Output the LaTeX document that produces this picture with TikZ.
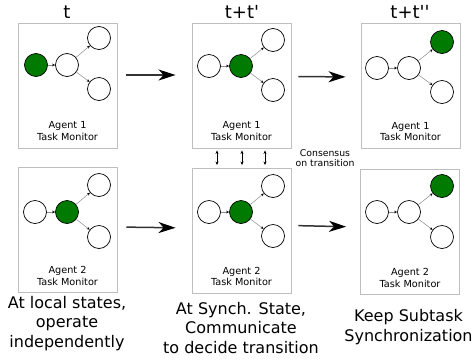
\documentclass[tikz,border=0pt]{standalone}
\usepackage{fontspec}
\setmainfont{DejaVu Sans}
\usetikzlibrary{arrows.meta}
\definecolor{actgreen}{HTML}{007A00}
\begin{document}
\begin{tikzpicture}[x=1pt,y=-1pt,
  st/.style={circle,draw=black,line width=0.7pt,minimum size=23pt,inner sep=0pt,fill=white},
  act/.style={st,fill=actgreen},
  mbox/.style={draw=black!25,line width=0.9pt,minimum width=99pt,minimum height=125pt,inner sep=0pt},
  lbl/.style={font=\fontsize{9.7}{11.5}\selectfont,align=center},
  tr/.style={draw=black!45,line width=0.5pt,-{Stealth[length=3pt,width=2.6pt,black]}},
  big/.style={draw=black!80,line width=1.5pt,-{Stealth[length=17pt,width=11pt,inset=5pt,black]}},
  dbl/.style={draw=black,line width=0.6pt,{Stealth[length=3.5pt,width=3pt]}-{Stealth[length=3.5pt,width=3pt]}},
  ttl/.style={font=\fontsize{18}{21}\selectfont},
  captxt/.style={font=\fontsize{16}{19.8}\selectfont,align=center},
  small/.style={font=\fontsize{9.3}{10.5}\selectfont,align=center}]
\useasboundingbox (0,0) rectangle (473,362);

% titles
\node[ttl] (t0) at (67,12) {t};
\node[ttl] (t1) at (242,12) {t+t\textquotesingle};
\node[ttl] (t2) at (410,12) {t+t\textquotesingle\textquotesingle};

% ---- Agent 1, time t
\node[mbox] (a1) at (67.5,85.5) {};
\node[act] (a1l) at (36,65) {};
\node[st] (a1m) at (67,65) {};
\node[st] (a1u) at (99,38) {};
\node[st] (a1d) at (99,89) {};
\draw[tr] (a1l) -- (a1m);
\draw[tr] (a1m) -- (a1u);
\draw[tr] (a1m) -- (a1d);
\node[lbl] (a1t) at (67.5,131) {Agent 1\\Task Monitor};

% ---- Agent 1, time t+t'
\node[mbox] (b1) at (241.5,85.5) {};
\node[st] (b1l) at (209,66) {};
\node[act] (b1m) at (241,66) {};
\node[st] (b1u) at (273,40) {};
\node[st] (b1d) at (273,90) {};
\draw[tr] (b1l) -- (b1m);
\draw[tr] (b1m) -- (b1u);
\draw[tr] (b1m) -- (b1d);
\node[lbl] (b1t) at (241.5,131) {Agent 1\\Task Monitor};

% ---- Agent 1, time t+t''
\node[mbox] (c1) at (410.5,86) {};
\node[st] (c1l) at (377,68) {};
\node[st] (c1m) at (409,68) {};
\node[act] (c1u) at (442,42) {};
\node[st] (c1d) at (442,92) {};
\draw[tr] (c1l) -- (c1m);
\draw[tr] (c1m) -- (c1u);
\draw[tr] (c1m) -- (c1d);
\node[lbl] (c1t) at (410.5,131.5) {Agent 1\\Task Monitor};

% ---- Agent 2, time t
\node[mbox] (a2) at (67.5,229.5) {};
\node[st] (a2l) at (35,212) {};
\node[act] (a2m) at (67,212) {};
\node[st] (a2u) at (99,185) {};
\node[st] (a2d) at (99,237) {};
\draw[tr] (a2l) -- (a2m);
\draw[tr] (a2m) -- (a2u);
\draw[tr] (a2m) -- (a2d);
\node[lbl] (a2t) at (67.5,276) {Agent 2\\Task Monitor};

% ---- Agent 2, time t+t'
\node[mbox] (b2) at (241.5,230.5) {};
\node[st] (b2l) at (209,212) {};
\node[act] (b2m) at (241,212) {};
\node[st] (b2u) at (273,186) {};
\node[st] (b2d) at (273,236) {};
\draw[tr] (b2l) -- (b2m);
\draw[tr] (b2m) -- (b2u);
\draw[tr] (b2m) -- (b2d);
\node[lbl] (b2t) at (241.5,276.5) {Agent 2\\Task Monitor};

% ---- Agent 2, time t+t''
\node[mbox] (c2) at (410,232) {};
\node[st] (c2l) at (377,212) {};
\node[st] (c2m) at (409,212) {};
\node[act] (c2u) at (442,186) {};
\node[st] (c2d) at (442,237) {};
\draw[tr] (c2l) -- (c2m);
\draw[tr] (c2m) -- (c2u);
\draw[tr] (c2m) -- (c2d);
\node[lbl] (c2t) at (410,278) {Agent 2\\Task Monitor};

% ---- time arrows
\draw[big,shorten <=9pt,shorten >=16pt] ([yshift=10.5pt]a1.east) -- ([yshift=10.5pt]b1.west);
\draw[big,shorten <=7pt,shorten >=15pt] ([yshift=9pt]b1.east) -- ([yshift=9pt]c1.west);
\draw[big,shorten <=9pt,shorten >=16pt] ([yshift=2.5pt]a2.east) -- ([yshift=2.5pt]b2.west);
\draw[big,shorten <=7pt,shorten >=14pt] ([yshift=5pt]b2.east) -- ([yshift=5pt]c2.west);

% ---- consensus arrows
\draw[dbl,shorten <=2pt,shorten >=2.5pt] ([xshift=-24.5pt]b1.south) -- ([xshift=-24.5pt]b2.north);
\draw[dbl,shorten <=2pt,shorten >=2.5pt] ([xshift=0.5pt]b1.south) -- ([xshift=0.5pt]b2.north);
\draw[dbl,shorten <=2pt,shorten >=2.5pt] ([xshift=23.5pt]b1.south) -- ([xshift=23.5pt]b2.north);
\node[small] (cons) at (325,158) {Consensus\\on transition};

% ---- captions
\node[captxt] (capa) at (67,323.5) {At local states,\\operate\\independently};
\node[captxt] (capb) at (241,328) {At Synch. State,\\Communicate\\to decide transition};
\node[captxt] (capc) at (408.5,327) {Keep Subtask\\Synchronization};
\end{tikzpicture}
\end{document}
